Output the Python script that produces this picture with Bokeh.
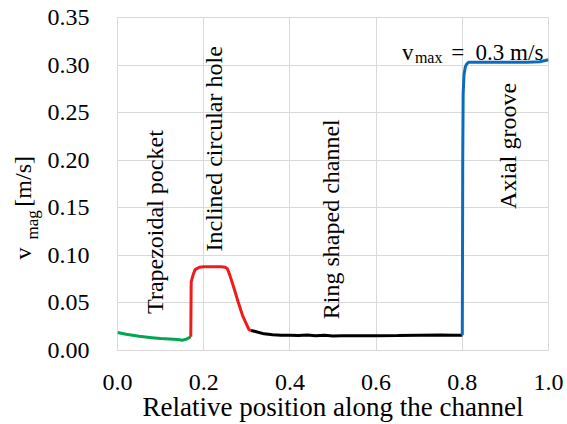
import numpy as np
from bokeh.plotting import figure
from bokeh.models import Label, FixedTicker, PrintfTickFormatter, Range1d, Title
from bokeh.embed import file_html
from bokeh.resources import INLINE

# ---- data ----
x_trap = [0.0, 0.02, 0.05, 0.08, 0.10, 0.12, 0.14, 0.15, 0.16, 0.17]
y_trap = [0.019, 0.017, 0.015, 0.0135, 0.0125, 0.012, 0.0115, 0.0108, 0.012, 0.0145]

x_hole = [0.17, 0.171, 0.175, 0.18, 0.19, 0.20, 0.22, 0.24, 0.25, 0.255, 0.26,
          0.27, 0.28, 0.29, 0.30, 0.305, 0.31]
y_hole = [0.0145, 0.072, 0.079, 0.085, 0.0875, 0.088, 0.088, 0.088, 0.0875, 0.086,
          0.080, 0.066, 0.051, 0.037, 0.027, 0.022, 0.021]

x_ring = [0.31, 0.32, 0.34, 0.36, 0.38, 0.40, 0.42, 0.44, 0.46, 0.48, 0.50, 0.52,
          0.55, 0.60, 0.65, 0.70, 0.75, 0.78, 0.80]
y_ring = [0.021, 0.020, 0.0175, 0.0165, 0.016, 0.016, 0.0158, 0.0162, 0.0155, 0.016,
          0.0152, 0.0155, 0.0154, 0.0155, 0.0157, 0.016, 0.0162, 0.016, 0.016]

x_axial = [0.80, 0.8005, 0.801, 0.802, 0.804, 0.807, 0.81, 0.815, 0.82, 0.85, 0.90,
           0.95, 0.98, 1.0]
y_axial = [0.016, 0.10, 0.20, 0.27, 0.29, 0.298, 0.301, 0.303, 0.303, 0.303, 0.303,
           0.303, 0.3035, 0.3055]

x_ticks = [0.0, 0.2, 0.4, 0.6, 0.8, 1.0]
y_ticks = [0.0, 0.05, 0.10, 0.15, 0.20, 0.25, 0.30, 0.35]

region_labels = ["Trapezoidal pocket", "Inclined circular hole", "Ring shaped channel", "Axial groove"]
region_x = [0.086, 0.225, 0.495, 0.905]
region_y = [0.135, 0.212, 0.138, 0.215]

FONT = "Liberation Serif"

p = figure(width=567, height=424, output_backend="svg", toolbar_location=None,
           x_range=Range1d(0, 1.0), y_range=Range1d(0, 0.35),
           min_border_left=117, min_border_right=19, min_border_top=17, min_border_bottom=74)
p.background_fill_color = "white"
p.border_fill_color = "white"
p.outline_line_color = "#d9d9d9"
p.outline_line_width = 1

p.line(x_trap, y_trap, line_color="#00a651", line_width=3)
p.line(x_hole, y_hole, line_color="#ee1c1c", line_width=3)
p.line(x_ring, y_ring, line_color="#000000", line_width=3)
p.line(x_axial, y_axial, line_color="#0b6cbf", line_width=3)

p.xaxis.ticker = FixedTicker(ticks=x_ticks)
p.yaxis.ticker = FixedTicker(ticks=y_ticks)
p.xaxis.formatter = PrintfTickFormatter(format="%.1f")
p.yaxis.formatter = PrintfTickFormatter(format="%.2f")

for ax in (p.xaxis[0], p.yaxis[0]):
    ax.axis_line_color = None
    ax.major_tick_line_color = None
    ax.minor_tick_line_color = None
    ax.major_label_text_font = FONT
    ax.major_label_text_font_size = "24px"
    ax.major_label_text_color = "#000000"
    ax.axis_label_text_font = FONT
    ax.axis_label_text_font_style = "normal"
    ax.axis_label_text_color = "#000000"

p.xaxis.major_label_standoff = 18
p.yaxis.major_label_standoff = 22
p.xaxis.axis_label = "Relative position along the channel"
p.xaxis.axis_label_text_font_size = "27px"
p.xaxis.axis_label_standoff = -1

p.xgrid.grid_line_color = "#d9d9d9"
p.ygrid.grid_line_color = "#d9d9d9"
p.xgrid.grid_line_width = 1
p.ygrid.grid_line_width = 1

for t, xx, yy in zip(region_labels, region_x, region_y):
    p.add_layout(Label(x=xx, y=yy, text=t, angle=np.pi / 2, text_font=FONT,
                       text_font_size="24px", text_align="center", text_baseline="middle",
                       text_color="#000000"))

# vmax annotation
p.add_layout(Label(x=0.988, y=0.313, text="=\u00a0\u00a00.3 m/s", text_font=FONT,
                   text_font_size="23px", text_align="right", text_baseline="alphabetic",
                   text_color="#000000"))
p.add_layout(Label(x=0.754, y=0.308, text="max", text_font=FONT, text_font_size="16px",
                   text_align="right", text_baseline="alphabetic", text_color="#000000"))
p.add_layout(Label(x=0.687, y=0.313, text="v", text_font=FONT, text_font_size="23px",
                   text_align="right", text_baseline="alphabetic", text_color="#000000"))

# y-axis title: v with subscript "mag", then [m/s]
p.add_layout(Label(x=7, y=111, x_units="screen", y_units="screen", text="mag", angle=np.pi / 2,
                   text_font=FONT, text_font_size="17px", text_align="left",
                   text_baseline="alphabetic", text_color="#000000"), "left")
p.add_layout(Title(text="v\u00a0\u00a0\u00a0\u00a0\u00a0\u00a0\u2009[m/s]", text_font=FONT,
                   text_font_size="24px", text_color="#000000", text_font_style="normal",
                   align="left", offset=91, standoff=-20), "left")

open("out.html", "w").write(file_html(p, INLINE))
